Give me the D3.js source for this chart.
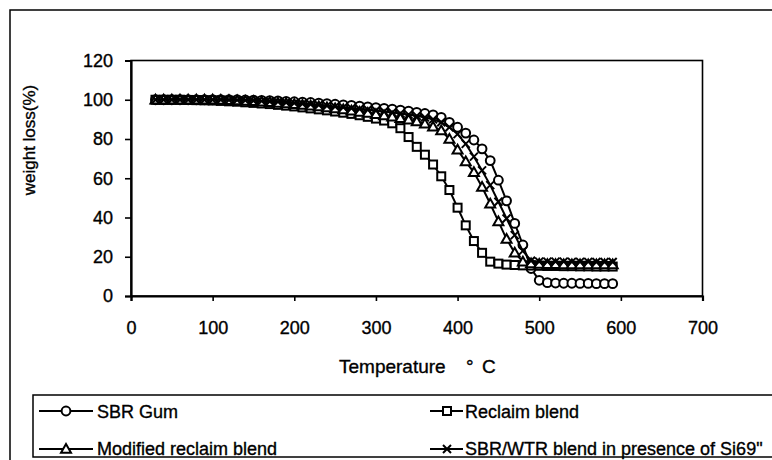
<!DOCTYPE html>
<html>
<head>
<meta charset="utf-8">
<script src="https://cdn.jsdelivr.net/npm/d3@7"></script>
<style>
  html, body { margin: 0; padding: 0; background: #fff; }
  svg { display: block; font-family: "Liberation Sans", Arial, sans-serif; }
  svg text { stroke: #000; stroke-width: 0.35px; }
</style>
</head>
<body>
<svg id="chart" width="772" height="460"></svg>
<script>
// Temperature (°C) at which each weight reading was taken
const temperatures = [30, 40, 50, 60, 70, 80, 90, 100, 110, 120, 130, 140, 150, 160, 170, 180, 190, 200,
  210, 220, 230, 240, 250, 260, 270, 280, 290, 300, 310, 320, 330, 340, 350, 360, 370, 380, 390, 400,
  410, 420, 430, 440, 450, 460, 470, 480, 490, 500, 510, 520, 530, 540, 550, 560, 570, 580, 590];

const sbrGum = [100, 100, 100, 100, 100, 100, 100, 100, 100, 100, 100, 99.9, 99.8, 99.7, 99.6, 99.4, 99.2, 99,
  98.8, 98.6, 98.3, 98, 97.7, 97.4, 97.1, 96.8, 96.4, 96, 95.6, 95.2, 94.7, 94.2, 93.6, 93, 92.3, 91, 88.5, 86,
  83, 79.5, 75, 69, 59, 48.5, 37, 26, 14, 8, 6.8, 6.6, 6.5, 6.5, 6.4, 6.4, 6.3, 6.3, 6.3];

const reclaimBlend = [100, 100, 100, 100, 99.9, 99.8, 99.7, 99.6, 99.4, 99.2, 99, 98.7, 98.4, 98.1, 97.8, 97.4, 97, 96.6,
  96.1, 95.6, 95.1, 94.6, 94, 93.4, 92.8, 92.1, 91.3, 90.4, 89.4, 88, 85.5, 81, 76, 72, 67, 61, 54, 45,
  36, 28, 22, 17.5, 16.5, 16, 15.8, 15.6, 15.5, 15.4, 15.3, 15.3, 15.2, 15.2, 15.1, 15.1, 15, 15, 15];

const modifiedReclaim = [100, 100, 100, 100, 100, 100, 100, 100, 99.9, 99.8, 99.6, 99.4, 99.2, 99, 98.7, 98.4, 98.1, 97.7,
  97.3, 96.9, 96.5, 96, 95.5, 95, 94.4, 93.8, 93.2, 92.6, 92, 91.3, 90.6, 89.8, 88.9, 87.8, 86.3, 84.3, 80, 74.5,
  68.5, 63, 55.5, 47, 38, 29, 22, 17.5, 16.5, 16.3, 16.2, 16.2, 16.1, 16.1, 16, 16, 16, 16, 16];

const sbrWtrSi69 = [100, 100, 100, 100, 100, 100, 100, 100, 100, 99.9, 99.8, 99.7, 99.5, 99.3, 99.1, 98.9, 98.6, 98.3,
  98, 97.7, 97.3, 96.9, 96.5, 96.1, 95.7, 95.3, 94.9, 94.5, 94, 93.5, 93, 92.4, 91.8, 91, 90, 88.5, 86, 82.5,
  77.5, 71, 64, 56.5, 48, 39.5, 31, 23, 18, 17.5, 17.5, 17.5, 17.5, 17.4, 17.4, 17.4, 17.3, 17.3, 17.3];

const seriesNames = ["SBR Gum", "Reclaim blend", "Modified reclaim blend", "SBR/WTR blend in presence of Si69\""];
const seriesValues = [sbrGum, reclaimBlend, modifiedReclaim, sbrWtrSi69];
const markerKinds = ["circle", "square", "triangle", "cross"];

const xTicks = [0, 100, 200, 300, 400, 500, 600, 700];
const yTicks = [0, 20, 40, 60, 80, 100, 120];

const svg = d3.select("#chart");
const FONT = "18px";

// outer frame
svg.append("rect")
  .attr("x", 10).attr("y", 10).attr("width", 780).attr("height", 470)
  .attr("fill", "none").attr("stroke", "#000").attr("stroke-width", 1.5);

const plot = { left: 131, right: 702.5, top: 60.5, bottom: 296 };

const x = d3.scaleLinear().domain([0, 700]).range([plot.left, plot.right]);
const y = d3.scaleLinear().domain([0, 120]).range([plot.bottom, plot.top]);

// plot area border
svg.append("rect")
  .attr("x", plot.left).attr("y", plot.top)
  .attr("width", plot.right - plot.left).attr("height", plot.bottom - plot.top)
  .attr("fill", "none").attr("stroke", "#000").attr("stroke-width", 1.6);

const xAxis = svg.append("g")
  .attr("transform", `translate(0,${plot.bottom})`)
  .call(d3.axisBottom(x).tickValues(xTicks).tickSize(5).tickPadding(20).tickFormat(d3.format("d")));
const yAxis = svg.append("g")
  .attr("transform", `translate(${plot.left},0)`)
  .call(d3.axisLeft(y).tickValues(yTicks).tickSize(6).tickPadding(12).tickFormat(d3.format("d")));

[xAxis, yAxis].forEach(g => {
  g.select(".domain").attr("stroke", "#000").attr("stroke-width", 2.2);
  g.selectAll(".tick line").attr("stroke", "#000").attr("stroke-width", 1.6);
  g.selectAll(".tick text")
    .attr("fill", "#000")
    .style("font-family", "'Liberation Sans', Arial, sans-serif")
    .style("font-size", FONT);
});

// axis titles
const xTitle = svg.append("text")
  .attr("y", 373)
  .style("font-size", "19px").attr("fill", "#000");
xTitle.append("tspan").attr("x", 339).text("Temperature");
xTitle.append("tspan").attr("x", 466).text("°");
xTitle.append("tspan").attr("x", 482).text("C");

svg.append("text")
  .attr("transform", "translate(35,140) rotate(-90)")
  .attr("text-anchor", "middle")
  .style("font-size", "17px").attr("fill", "#000")
  .text("weight loss(%)");

// marker drawing
function drawMarker(g, kind, cx, cy) {
  const sw = 2;
  if (kind === "circle") {
    g.append("circle").attr("cx", cx).attr("cy", cy).attr("r", 4.4)
      .attr("fill", "#fff").attr("stroke", "#000").attr("stroke-width", sw);
  } else if (kind === "square") {
    g.append("rect").attr("x", cx - 4).attr("y", cy - 4).attr("width", 8).attr("height", 8)
      .attr("fill", "#fff").attr("stroke", "#000").attr("stroke-width", sw);
  } else if (kind === "triangle") {
    const h = 5;
    g.append("path")
      .attr("d", `M${cx},${cy - h}L${cx + h},${cy + h * 0.75}L${cx - h},${cy + h * 0.75}Z`)
      .attr("fill", "#fff").attr("stroke", "#000").attr("stroke-width", sw);
  } else {
    const c = 4;
    g.append("path")
      .attr("d", `M${cx - c},${cy - c}L${cx + c},${cy + c}M${cx - c},${cy + c}L${cx + c},${cy - c}`)
      .attr("fill", "none").attr("stroke", "#000").attr("stroke-width", sw);
  }
}

const line = d3.line().x(d => x(d[0])).y(d => y(d[1]));

seriesValues.forEach((vals, i) => {
  const pts = temperatures.map((t, j) => [t, vals[j]]);
  const g = svg.append("g");
  g.append("path").datum(pts).attr("d", line)
    .attr("fill", "none").attr("stroke", "#000").attr("stroke-width", 2);
  pts.forEach(p => drawMarker(g, markerKinds[i], x(p[0]), y(p[1])));
});

// legend
svg.append("rect")
  .attr("x", 33).attr("y", 395).attr("width", 760).attr("height", 62)
  .attr("fill", "#fff").attr("stroke", "#000").attr("stroke-width", 1.5);

const legendCols = [
  { x1: 39, x2: 93, mx: 66, tx: 97 },
  { x1: 430, x2: 463, mx: 447, tx: 465 }
];
const legendRows = [{ cy: 411, by: 418 }, { cy: 449, by: 455 }];

seriesNames.forEach((name, i) => {
  const col = legendCols[i % 2];
  const row = legendRows[Math.floor(i / 2)];
  const g = svg.append("g");
  g.append("line")
    .attr("x1", col.x1).attr("x2", col.x2).attr("y1", row.cy).attr("y2", row.cy)
    .attr("stroke", "#000").attr("stroke-width", 2);
  drawMarker(g, markerKinds[i], col.mx, row.cy);
  g.append("text").attr("x", col.tx).attr("y", row.by)
    .style("font-size", FONT).attr("fill", "#000").text(name);
});
</script>
</body>
</html>
